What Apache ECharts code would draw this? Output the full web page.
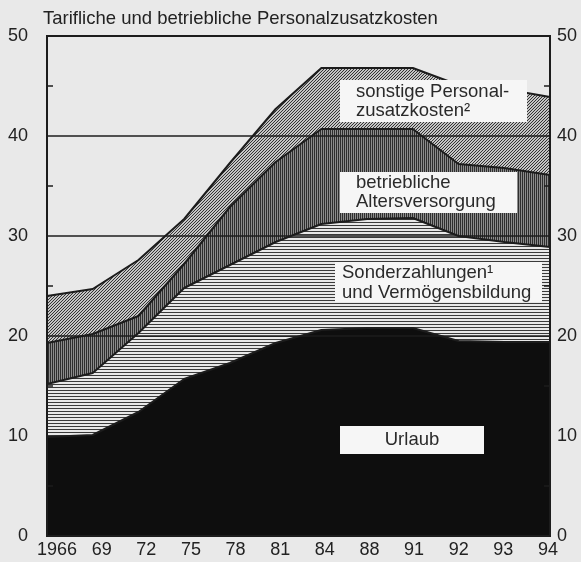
<!DOCTYPE html>
<html>
<head>
<meta charset="utf-8">
<script src="https://cdn.jsdelivr.net/npm/echarts@6/dist/echarts.min.js"></script>
<style>
  html, body { margin: 0; padding: 0; background: #e9e9e9; }
  #chart { width: 581px; height: 562px; }
</style>
</head>
<body>
<div id="chart"></div>
<script>
// Jahre und Anteile (in % der Lohnkosten)
const years = ['1966', '69', '72', '75', '78', '81', '84', '88', '91', '92', '93', '94'];
const urlaub = [9.9, 10.1, 12.4, 15.7, 17.3, 19.3, 20.6, 20.8, 20.8, 19.5, 19.4, 19.4];
const sonder = [5.3, 6.2, 7.9, 9.1, 9.8, 10.1, 10.6, 10.9, 11.0, 10.5, 10.0, 9.5];
const alters = [4.1, 3.9, 1.7, 2.4, 5.8, 8.0, 9.5, 9.0, 8.9, 7.2, 7.4, 7.2];
const sonstige = [4.7, 4.5, 5.6, 4.5, 4.4, 5.3, 6.1, 6.1, 6.1, 7.9, 7.9, 7.8];
const gridLines = [20, 30, 40];

const FONT = '"Liberation Sans", Arial, sans-serif';
const INK = '#1c1c1c';

// kleine Kacheln fuer die Schraffuren
function pattern(w, h, draw) {
    const c = document.createElement('canvas');
    c.width = w;
    c.height = h;
    draw(c.getContext('2d'));
    return { image: c, repeat: 'repeat' };
}
const diagHatch = pattern(3, 3, function (ctx) {
    ctx.fillStyle = '#c4c4c4';
    ctx.fillRect(0, 0, 3, 3);
    ctx.fillStyle = '#333333';
    ctx.fillRect(2, 0, 1, 1);
    ctx.fillRect(1, 1, 1, 1);
    ctx.fillRect(0, 2, 1, 1);
});
const vertHatch = pattern(2, 2, function (ctx) {
    ctx.fillStyle = '#8c8c8c';
    ctx.fillRect(0, 0, 2, 2);
    ctx.fillStyle = '#2e2e2e';
    ctx.fillRect(0, 0, 1, 2);
});
const horizHatch = pattern(2, 3, function (ctx) {
    ctx.fillStyle = '#e8e8e8';
    ctx.fillRect(0, 0, 2, 3);
    ctx.fillStyle = '#3a3a3a';
    ctx.fillRect(0, 0, 2, 1);
});

function layer(name, data, fill) {
    return {
        name: name,
        type: 'line',
        stack: 'total',
        data: data,
        showSymbol: false,
        silent: true,
        lineStyle: { color: INK, width: 2 },
        areaStyle: { color: fill, opacity: 1 }
    };
}

function box(x, y, w, h, text, tx, ty, size, lh, align) {
    return {
        type: 'group',
        children: [{
            type: 'rect',
            z: 100,
            shape: { x: x, y: y, width: w, height: h },
            style: { fill: '#f6f6f6' }
        }, {
            type: 'text',
            z: 101,
            x: tx,
            y: ty,
            style: {
                text: text,
                font: size + 'px ' + FONT,
                fill: '#2a2a2a',
                lineHeight: lh,
                align: align || 'left',
                verticalAlign: 'middle'
            }
        }]
    };
}

const chart = echarts.init(document.getElementById('chart'));

const option = {
    backgroundColor: '#e9e9e9',
    animation: false,
    title: {
        text: 'Tarifliche und betriebliche Personalzusatzkosten',
        left: 38,
        top: 4,
        textStyle: { fontFamily: FONT, fontSize: 18.5, fontWeight: 'normal', color: '#222' }
    },
    grid: [{
        left: 47, right: 31, top: 36, bottom: 26,
        show: true, borderColor: INK, borderWidth: 2, backgroundColor: 'transparent'
    }, {
        left: 57, right: 33, top: 36, bottom: 26
    }],
    xAxis: [{
        type: 'category',
        gridIndex: 0,
        data: years,
        boundaryGap: false,
        z: 10,
        axisLine: { show: true, lineStyle: { color: INK, width: 2 } },
        axisTick: { show: false },
        axisLabel: { show: false }
    }, {
        // nur die Jahreszahlen, leicht versetzt wie im Original
        type: 'category',
        gridIndex: 1,
        data: years,
        boundaryGap: false,
        axisLine: { show: false },
        axisTick: { show: false },
        axisLabel: { interval: 0, margin: 5, fontFamily: FONT, fontSize: 18, color: '#222' }
    }],
    yAxis: [{
        type: 'value',
        gridIndex: 0,
        min: 0, max: 50, interval: 10,
        z: 10,
        axisLine: { show: true, lineStyle: { color: INK, width: 2 } },
        axisTick: { show: false, inside: true },
        minorTick: { show: true, splitNumber: 2, length: 6, lineStyle: { color: INK, width: 1.5 } },
        splitLine: { show: false },
        axisLabel: { margin: 19, fontFamily: FONT, fontSize: 18, color: '#222' }
    }, {
        type: 'value',
        gridIndex: 0,
        position: 'right',
        min: 0, max: 50, interval: 10,
        z: 10,
        axisLine: { show: true, lineStyle: { color: INK, width: 2 } },
        axisTick: { show: false, inside: true },
        minorTick: { show: true, splitNumber: 2, length: 6, lineStyle: { color: INK, width: 1.5 } },
        splitLine: { show: false },
        axisLabel: { margin: 7, fontFamily: FONT, fontSize: 18, color: '#222' }
    }, {
        type: 'value',
        gridIndex: 1,
        show: false
    }],
    series: [
        layer('Urlaub', urlaub, '#0e0e0e'),
        layer('Sonderzahlungen und Vermögensbildung', sonder, horizHatch),
        layer('betriebliche Altersversorgung', alters, vertHatch),
        layer('sonstige Personalzusatzkosten', sonstige, diagHatch),
        {
            // Gitterlinien ueber den Flaechen
            type: 'line',
            data: [],
            z: 5,
            silent: true,
            markLine: {
                silent: true,
                symbol: 'none',
                label: { show: false },
                lineStyle: { color: INK, width: 1.5, type: 'solid' },
                data: gridLines.map(function (v) { return { yAxis: v }; })
            }
        }
    ],
    graphic: [
        box(340, 80, 187, 42, 'sonstige Personal-\nzusatzkosten²', 356, 101, 18.5, 19),
        box(340, 172, 177, 41, 'betriebliche\nAltersversorgung', 356, 192.5, 18.5, 19),
        box(335, 262, 207, 40, 'Sonderzahlungen¹\nund Vermögensbildung', 342, 283, 18.5, 20),
        box(340, 426, 144, 28, 'Urlaub', 412, 440, 18.5, 20, 'center')
    ]
};

chart.setOption(option);
</script>
</body>
</html>
